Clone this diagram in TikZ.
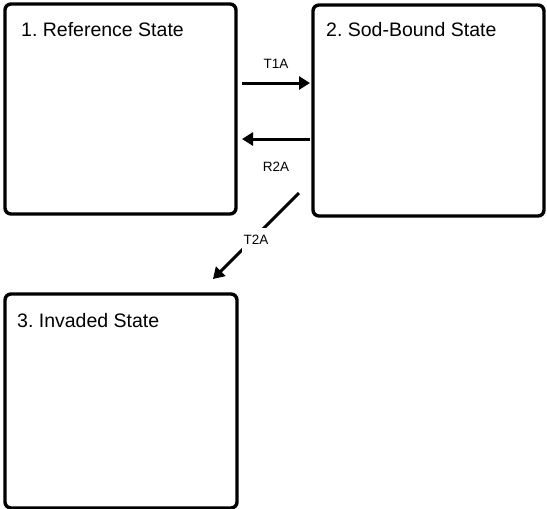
\documentclass[tikz,border=0pt]{standalone}
\usepackage{fontspec}
\setmainfont{Liberation Sans}
\usetikzlibrary{arrows.meta,positioning}
\frenchspacing
\begin{document}
\begin{tikzpicture}[x=1pt,y=1pt,
  statebox/.style={draw=black,line width=3.4pt,rounded corners=6pt,fill=white,inner sep=0pt},
  title/.style={anchor=base west,inner sep=0pt,font=\fontsize{19.5}{22}\selectfont},
  arr/.style={line width=3pt,-{Triangle[length=11pt,width=13pt]}},
  lab/.style={font=\fontsize{13.5}{15}\selectfont,inner sep=1pt}]
\useasboundingbox (0,0) rectangle (547,-509);
\node[statebox,minimum width=231pt,minimum height=210pt] (b1) at (120.5,-109) {};
\node[statebox,minimum width=231pt,minimum height=211pt] (b2) at (428.5,-110.5) {};
\node[statebox,minimum width=232pt,minimum height=214pt] (b3) at (121,-401) {};
\node[title] (t1) at (21,-36) {1. Reference State};
\node[title] (t2) at (326,-36) {2. Sod-Bound State};
\node[title] (t3) at (17,-327) {3. Invaded State};
\coordinate (a1s) at (242,-83);
\coordinate (a1e) at (310,-83);
\coordinate (a2s) at (310,-139);
\coordinate (a2e) at (242,-139);
\coordinate (a3s) at (299,-193);
\coordinate (a3e) at (213,-279);
\draw[arr] (a1s) -- (a1e);
\draw[arr] (a2s) -- (a2e);
\draw[arr] (a3s) -- (a3e);
\node[lab] (l1) at (276,-64) {T1A};
\node[lab] (l2) at (276,-167) {R2A};
\node[lab,fill=white,inner xsep=2pt,inner ysep=7pt] (l3) at (256,-240) {T2A};
\end{tikzpicture}
\end{document}
